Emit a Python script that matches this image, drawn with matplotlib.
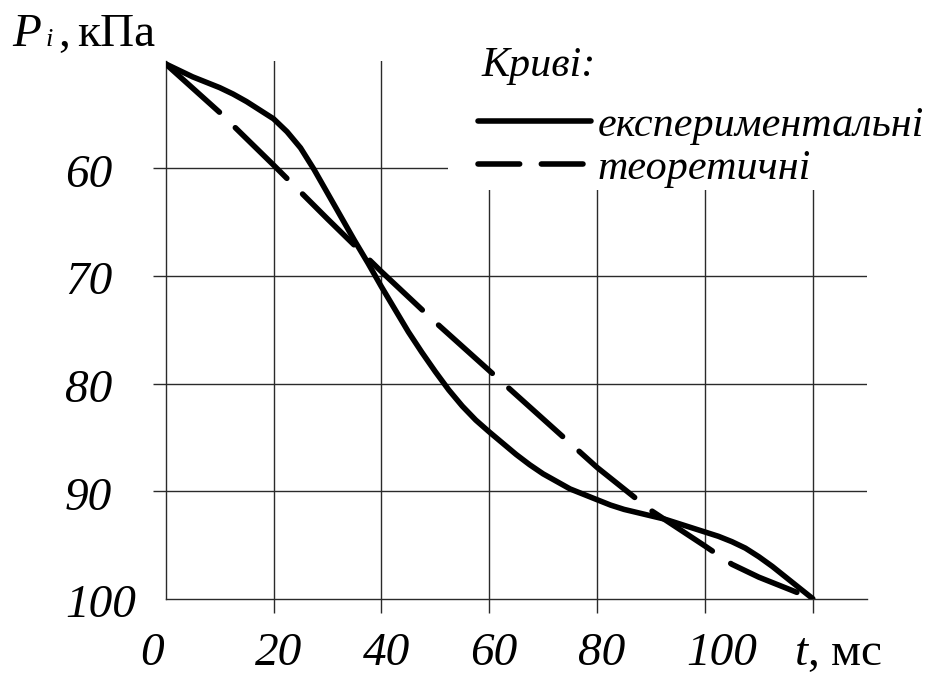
import matplotlib
matplotlib.use("Agg")
import matplotlib.pyplot as plt
import matplotlib.transforms as mtransforms
from matplotlib.lines import Line2D
from matplotlib.patches import Rectangle
from matplotlib.font_manager import FontProperties

# Дані (t, мс; P, кПа)
t_exp = [0, 2.5, 5, 7.5, 10, 12.5, 15, 17.5, 20, 22.5, 25, 27.5, 30, 32.5,
         35, 37.5, 40, 42.5, 45, 47.5, 50, 52.5, 55, 57.5, 60, 62.5, 65,
         67.5, 70, 72.5, 75, 77.5, 80, 82.5, 85, 87.5, 90, 92.5, 95, 97.5,
         100, 102.5, 105, 107.5, 110, 112.5, 115, 117.5, 120]
p_exp = [50.3, 50.9, 51.5, 52.0, 52.5, 53.1, 53.8, 54.6, 55.4, 56.6, 58.1,
         60.1, 62.3, 64.5, 66.7, 68.8, 71.0, 73.1, 75.2, 77.1, 78.9, 80.6,
         82.1, 83.4, 84.5, 85.55, 86.6, 87.55, 88.4, 89.1, 89.8, 90.3, 90.8,
         91.3, 91.7, 92.0, 92.3, 92.6, 93.0, 93.4, 93.8, 94.2, 94.7, 95.3,
         96.1, 97.0, 98.0, 99.0, 100.0]
t_teor = [0, 10, 20, 30, 40, 50, 60, 70, 80, 90, 100, 105, 110, 115, 120]
p_teor = [50.3, 54.8, 59.7, 64.7, 69.6, 74.3, 78.8, 83.3, 87.8, 91.8, 95.1,
          96.8, 98.0, 99.0, 100.0]

x_ticks = [20, 40, 60, 80, 100, 120]
x_labels = ["0", "20", "40", "60", "80", "100"]
x_label_vals = [0, 20, 40, 60, 80, 100]
y_ticks = [60, 70, 80, 90]
y_label_vals = [60, 70, 80, 90, 100]
legend_title = "Криві:"
legend_names = ["експериментальні", "теоретичні"]

plt.rcParams["font.family"] = ["Liberation Serif", "DejaVu Serif"]
plt.rcParams["mathtext.fontset"] = "custom"
plt.rcParams["mathtext.it"] = "Liberation Serif:italic"
plt.rcParams["mathtext.rm"] = "Liberation Serif"
plt.rcParams["lines.scale_dashes"] = False

W, H = 929, 673
fig = plt.figure(figsize=(W / 100, H / 100), dpi=100)
ax = fig.add_axes([165.7 / W, (H - 598.7) / H, 701 / W, 538 / H])

cor_grade = "#2a2a2a"
lw_grade = 1.0
lw_curva = 4.0

ax.plot(t_exp, p_exp, color="black", lw=lw_curva, solid_capstyle="round",
        solid_joinstyle="round", zorder=3)
ax.plot(t_teor, p_teor, color="black", lw=lw_curva, dashes=(52, 16),
        dash_capstyle="round", zorder=3)

ax.set_xlim(0, 130)
ax.set_ylim(100, 50)
ax.set_xticks(x_ticks)
ax.set_yticks(y_ticks)
ax.set_xticklabels([])
ax.set_yticklabels([])
ax.tick_params(axis="x", direction="out", length=10, width=lw_grade, color=cor_grade)
ax.tick_params(axis="y", direction="out", length=9.4, width=lw_grade, color=cor_grade)
ax.grid(True, color=cor_grade, lw=lw_grade)
for lado in ["top", "right"]:
    ax.spines[lado].set_visible(False)
for lado in ["left", "bottom"]:
    ax.spines[lado].set_color(cor_grade)
    ax.spines[lado].set_linewidth(lw_grade)

# máscara branca por baixo da legenda
ax.add_patch(Rectangle((0.4027, 0.7597), 0.7, 0.4, transform=ax.transAxes,
                       facecolor="white", edgecolor="none", clip_on=False, zorder=2))

tam = 34
fonte_it = dict(fontsize=tam, fontstyle="italic")

# rótulos do eixo y
trans_y = mtransforms.blended_transform_factory(fig.transFigure, ax.transData)
trans_y = mtransforms.offset_copy(trans_y, fig=fig, x=0, y=-18.5, units="dots")
for v in y_label_vals:
    ax.text(65 / W, v, str(v), transform=trans_y, ha="left", va="baseline",
            **fonte_it)

# rótulos do eixo x
trans_x = mtransforms.blended_transform_factory(ax.transData, ax.transAxes)
trans_x = mtransforms.offset_copy(trans_x, fig=fig, x=-19, y=-66, units="dots")
for v, rot in zip(x_label_vals, x_labels):
    dx = -7 if v == 0 else 0
    ax.text(v + dx / 5.397, 0, rot, transform=trans_x, ha="left",
            va="baseline", **fonte_it)
ax.text(120, 0, r"$t$, мс", transform=trans_x, ha="left", va="baseline",
        fontsize=tam)

# título do eixo y
fig.text(12 / W, 1 - 46 / H, "P", ha="left", va="baseline", **fonte_it)
fig.text(46 / W, 1 - 46 / H, "i", ha="left", va="baseline", fontsize=19,
         fontstyle="italic")
fig.text(58 / W, 1 - 46 / H, ",", ha="left", va="baseline", fontsize=tam)
fig.text(77 / W, 1 - 46 / H, "кПа", ha="left", va="baseline", fontsize=tam)

# legenda
prop_leg = FontProperties(family="Liberation Serif", style="italic", size=30.3)
fig.text(482 / W, 1 - 76 / H, legend_title, ha="left", va="baseline",
         fontproperties=prop_leg)
handles = [Line2D([], [], color="black", lw=lw_curva, solid_capstyle="round"),
           Line2D([], [], color="black", lw=lw_curva, dashes=(30, 15.6),
                  dash_capstyle="round")]
leg = ax.legend(handles, legend_names, prop=prop_leg, frameon=False,
                handlelength=2.69, handletextpad=0.15, labelspacing=0.1,
                borderpad=0, borderaxespad=0, loc="upper left",
                bbox_to_anchor=(478 / W, 1 - 106.7 / H),
                bbox_transform=fig.transFigure)
leg.set_zorder(4)

fig.savefig("out.png", dpi=100)
